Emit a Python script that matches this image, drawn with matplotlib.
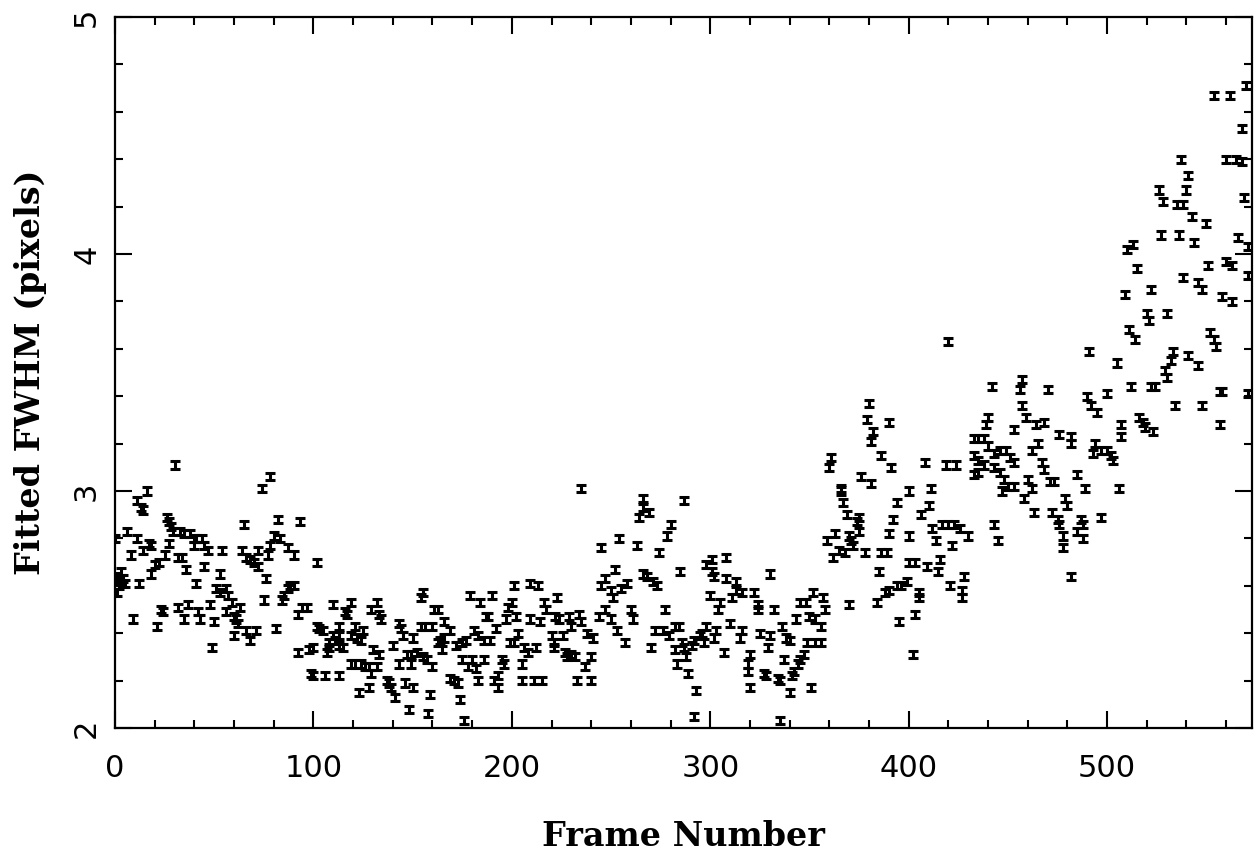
import numpy as np
import matplotlib
matplotlib.use('Agg')
import matplotlib.pyplot as plt
from matplotlib.ticker import MultipleLocator

# frames 0-100
frames_a = [1, 2, 2, 3, 4, 5, 1, 0, 6, 8, 9, 11, 13, 14, 16, 11, 12, 14, 17, 18,
            18, 20, 22, 21, 23, 24, 25, 26, 27, 28, 29, 27, 30, 32, 34, 36, 33, 35, 32, 35,
            37, 38, 40, 41, 44, 45, 47, 40, 41, 42, 43, 45, 48, 50, 49, 54, 53, 51, 53, 56,
            57, 56, 59, 60, 61, 63, 62, 60, 64, 65, 66, 68, 71, 66, 68, 70, 72, 72, 74, 78,
            76, 75, 77, 78, 80, 81, 82, 83, 84, 85, 87, 88, 90, 87, 90, 92, 93, 94, 97, 92,
            98, 99, 102]
fwhm_a = [2.64, 2.62, 2.60, 2.66, 2.63, 2.61, 2.57, 2.80, 2.83, 2.73, 2.46, 2.96, 2.93, 2.92, 3.00, 2.80, 2.61, 2.75, 2.78, 2.77,
          2.65, 2.69, 2.70, 2.43, 2.50, 2.49, 2.73, 2.89, 2.87, 2.85, 2.83, 2.78, 3.11, 2.72, 2.72, 2.67, 2.83, 2.82, 2.51, 2.46,
          2.52, 2.82, 2.80, 2.80, 2.80, 2.77, 2.75, 2.77, 2.61, 2.49, 2.46, 2.68, 2.52, 2.45, 2.34, 2.75, 2.65, 2.59, 2.57, 2.59,
          2.56, 2.49, 2.53, 2.47, 2.46, 2.51, 2.44, 2.39, 2.75, 2.86, 2.41, 2.37, 2.41, 2.72, 2.71, 2.70, 2.68, 2.75, 3.01, 3.06,
          2.63, 2.54, 2.73, 2.77, 2.81, 2.42, 2.88, 2.80, 2.54, 2.56, 2.59, 2.60, 2.60, 2.76, 2.73, 2.48, 2.87, 2.51, 2.51, 2.32,
          2.33, 2.23, 2.70]

# frames 100-200
frames_b = [100, 106, 113, 102, 100, 103, 105, 110, 108, 107, 108, 110, 111, 113, 113, 115, 113, 117, 119, 116,
            119, 121, 122, 124, 125, 119, 121, 124, 126, 128, 128, 123, 129, 132, 133, 134, 130, 133, 132, 129,
            137, 138, 139, 141, 140, 143, 145, 144, 143, 146, 149, 150, 148, 147, 149, 150, 152, 154, 156, 160,
            155, 157, 155, 154, 161, 163, 160, 159, 158, 166, 166, 165, 169, 163, 164, 169, 171, 173, 174, 172,
            175, 177, 175, 178, 176, 179, 184, 190, 181, 183, 186, 189, 180, 182, 186, 183, 187, 188, 191, 193,
            195, 196, 193, 192, 197, 198, 199]
fwhm_b = [2.22, 2.22, 2.22, 2.43, 2.34, 2.42, 2.41, 2.52, 2.36, 2.32, 2.34, 2.39, 2.37, 2.43, 2.39, 2.34, 2.35, 2.48, 2.53, 2.49,
          2.39, 2.43, 2.38, 2.37, 2.41, 2.27, 2.27, 2.27, 2.26, 2.26, 2.17, 2.15, 2.50, 2.53, 2.48, 2.46, 2.33, 2.31, 2.26, 2.23,
          2.20, 2.19, 2.17, 2.13, 2.35, 2.44, 2.39, 2.42, 2.27, 2.19, 2.27, 2.17, 2.08, 2.31, 2.31, 2.38, 2.32, 2.43, 2.43, 2.43,
          2.30, 2.29, 2.57, 2.55, 2.50, 2.50, 2.26, 2.14, 2.06, 2.45, 2.38, 2.33, 2.41, 2.36, 2.37, 2.21, 2.20, 2.19, 2.12, 2.35,
          2.36, 2.37, 2.29, 2.26, 2.03, 2.56, 2.53, 2.56, 2.41, 2.39, 2.37, 2.37, 2.29, 2.25, 2.29, 2.20, 2.47, 2.47, 2.20, 2.17,
          2.29, 2.27, 2.22, 2.42, 2.46, 2.51, 2.36]

# frames 200-300
frames_c = [201, 200, 202, 203, 201, 209, 213, 206, 208, 212, 205, 205, 211, 215, 209, 214, 216, 217, 223, 222,
            224, 229, 230, 220, 221, 221, 226, 227, 228, 230, 232, 235, 234, 235, 238, 241, 237, 240, 233, 240,
            244, 245, 245, 247, 247, 250, 250, 251, 253, 254, 252, 255, 257, 258, 260, 261, 263, 264, 266, 266,
            269, 266, 268, 271, 273, 274, 270, 277, 272, 276, 278, 280, 279, 282, 284, 285, 287, 282, 283, 286,
            288, 289, 293, 292, 287, 291, 292, 296, 298, 298, 297, 295]
fwhm_c = [2.60, 2.53, 2.47, 2.40, 2.36, 2.61, 2.60, 2.34, 2.32, 2.34, 2.27, 2.20, 2.20, 2.20, 2.46, 2.45, 2.53, 2.50, 2.55, 2.47,
          2.46, 2.47, 2.43, 2.39, 2.36, 2.34, 2.39, 2.32, 2.30, 2.31, 2.30, 3.01, 2.48, 2.45, 2.40, 2.38, 2.26, 2.30, 2.20, 2.20,
          2.47, 2.76, 2.60, 2.63, 2.50, 2.58, 2.46, 2.55, 2.41, 2.80, 2.67, 2.59, 2.36, 2.61, 2.50, 2.46, 2.77, 2.89, 2.97, 2.93,
          2.91, 2.65, 2.64, 2.62, 2.60, 2.74, 2.34, 2.50, 2.41, 2.41, 2.81, 2.86, 2.39, 2.43, 2.43, 2.66, 2.96, 2.33, 2.27, 2.36,
          2.30, 2.23, 2.16, 2.05, 2.34, 2.35, 2.37, 2.40, 2.43, 2.69, 2.36, 2.39]

# frames 300-355
frames_d = [301, 308, 301, 302, 308, 313, 300, 305, 304, 311, 313, 316, 322, 324, 324, 330, 332, 303, 302, 307,
            310, 316, 315, 325, 330, 329, 336, 338, 340, 343, 345, 348, 352, 350, 353, 320, 319, 319, 320, 327,
            328, 334, 335, 337, 340, 341, 342, 344, 345, 347, 349, 353, 351, 335]
fwhm_d = [2.71, 2.72, 2.66, 2.64, 2.63, 2.62, 2.56, 2.53, 2.50, 2.55, 2.58, 2.57, 2.57, 2.52, 2.50, 2.65, 2.50, 2.41, 2.38, 2.32,
          2.44, 2.41, 2.38, 2.40, 2.39, 2.34, 2.43, 2.38, 2.37, 2.46, 2.53, 2.53, 2.57, 2.47, 2.46, 2.31, 2.27, 2.24, 2.17, 2.23,
          2.22, 2.21, 2.20, 2.29, 2.15, 2.22, 2.24, 2.27, 2.29, 2.31, 2.36, 2.36, 2.17, 2.03]

# frames 355-460
frames_e = [361, 360, 366, 366, 367, 369, 375, 374, 375, 359, 363, 370, 371, 372, 365, 368, 362, 378, 386, 385,
            357, 358, 356, 356, 370, 384, 380, 379, 382, 381, 390, 386, 391, 376, 381, 394, 400, 411, 410, 406,
            392, 390, 400, 389, 408, 419, 424, 412, 414, 417, 420, 423, 426, 430, 422, 400, 403, 409, 415, 416,
            428, 427, 427, 421, 405, 405, 396, 399, 394, 390, 388, 395, 403, 402, 433, 435, 438, 440, 439, 442,
            457, 456, 457, 453, 459, 433, 435, 438, 440, 443, 446, 449, 451, 453, 443, 446, 448, 447, 450, 453,
            435, 433, 460, 458, 443, 445, 420]
fwhm_e = [3.14, 3.10, 3.01, 3.00, 2.95, 2.90, 2.89, 2.87, 2.83, 2.79, 2.82, 2.81, 2.79, 2.77, 2.75, 2.74, 2.72, 2.74, 2.74, 2.66,
          2.55, 2.50, 2.43, 2.36, 2.52, 2.53, 3.37, 3.30, 3.25, 3.21, 3.29, 3.15, 3.10, 3.06, 3.03, 2.95, 3.00, 3.01, 2.94, 2.90,
          2.88, 2.82, 2.81, 2.74, 3.12, 3.11, 3.11, 2.84, 2.79, 2.86, 2.86, 2.86, 2.84, 2.81, 2.77, 2.70, 2.70, 2.68, 2.66, 2.71,
          2.64, 2.58, 2.55, 2.60, 2.57, 2.55, 2.60, 2.62, 2.60, 2.58, 2.57, 2.45, 2.48, 2.31, 3.22, 3.22, 3.22, 3.31, 3.28, 3.44,
          3.47, 3.43, 3.36, 3.26, 3.31, 3.15, 3.13, 3.11, 3.19, 3.16, 3.17, 3.17, 3.14, 3.12, 3.10, 3.08, 3.05, 3.00, 3.02, 3.02,
          3.08, 3.07, 3.05, 2.97, 2.86, 2.79, 3.63]

# frames 460-572
frames_f = [464, 468, 465, 462, 468, 467, 471, 473, 462, 463, 472, 475, 476, 478, 480, 479, 478, 482, 485, 489,
            487, 488, 485, 488, 497, 506, 470, 476, 482, 482, 491, 490, 492, 495, 494, 493, 497, 500, 503, 502,
            500, 505, 507, 507, 509, 510, 513, 515, 511, 514, 512, 516, 518, 519, 523, 520, 521, 522, 522, 524,
            526, 528, 527, 530, 529, 530, 532, 533, 534, 535, 538, 536, 537, 540, 541, 543, 544, 538, 546, 548,
            550, 551, 541, 546, 548, 552, 554, 555, 557, 558, 557, 560, 563, 558, 563, 554, 562, 570, 568, 560,
            565, 568, 569, 566, 571, 571, 571]
fwhm_f = [3.28, 3.29, 3.20, 3.17, 3.09, 3.12, 3.04, 3.04, 3.01, 2.91, 2.91, 2.88, 2.86, 2.81, 2.94, 2.97, 2.76, 2.64, 3.07, 3.01,
          2.88, 2.86, 2.83, 2.80, 2.89, 3.01, 3.43, 3.24, 3.23, 3.20, 3.59, 3.40, 3.36, 3.33, 3.20, 3.16, 3.17, 3.17, 3.13, 3.15,
          3.41, 3.54, 3.28, 3.23, 3.83, 4.02, 4.04, 3.94, 3.68, 3.64, 3.44, 3.31, 3.29, 3.27, 3.25, 3.75, 3.72, 3.85, 3.44, 3.44,
          4.27, 4.22, 4.08, 3.75, 3.51, 3.48, 3.55, 3.59, 3.36, 4.21, 4.21, 4.08, 4.40, 4.27, 4.33, 4.16, 4.05, 3.90, 3.88, 3.85,
          4.13, 3.95, 3.57, 3.53, 3.36, 3.67, 3.64, 3.61, 3.42, 3.42, 3.28, 3.97, 3.95, 3.82, 3.80, 4.67, 4.67, 4.71, 4.53, 4.40,
          4.40, 4.39, 4.24, 4.07, 4.03, 3.91, 3.41]

fwhm_err = 0.015

frames = np.concatenate([frames_a, frames_b, frames_c, frames_d, frames_e, frames_f])
fwhm = np.concatenate([fwhm_a, fwhm_b, fwhm_c, fwhm_d, fwhm_e, fwhm_f])

fig = plt.figure(figsize=(12.58, 8.5), dpi=100)
ax = fig.add_axes([0.0914, 0.1435, 0.9038, 0.8365])

ax.errorbar(frames, fwhm, yerr=fwhm_err, fmt='none', ecolor='black',
            elinewidth=2.2, capsize=3.3, capthick=2.2)

ax.set_xlim(0, 573)
ax.set_ylim(2, 5)
ax.xaxis.set_major_locator(MultipleLocator(100))
ax.xaxis.set_minor_locator(MultipleLocator(20))
ax.yaxis.set_major_locator(MultipleLocator(1))
ax.yaxis.set_minor_locator(MultipleLocator(0.2))
ax.tick_params(which='both', direction='in', top=True, right=True, width=1.5)
ax.tick_params(which='major', length=12)
ax.tick_params(which='minor', length=6)
ax.tick_params(axis='x', labelsize=22, pad=19)
ax.tick_params(axis='y', labelsize=22, pad=10)
for lab in ax.get_yticklabels():
    lab.set_rotation(90)
    lab.set_va('center')
for s in ax.spines.values():
    s.set_linewidth(1.6)

ax.set_xlabel('Frame Number', family='DejaVu Serif', fontweight='bold', fontsize=24, labelpad=26)
ax.set_ylabel('Fitted FWHM (pixels)', family='DejaVu Serif', fontweight='bold', fontsize=24, labelpad=18)

fig.savefig('out.png', dpi=100)
